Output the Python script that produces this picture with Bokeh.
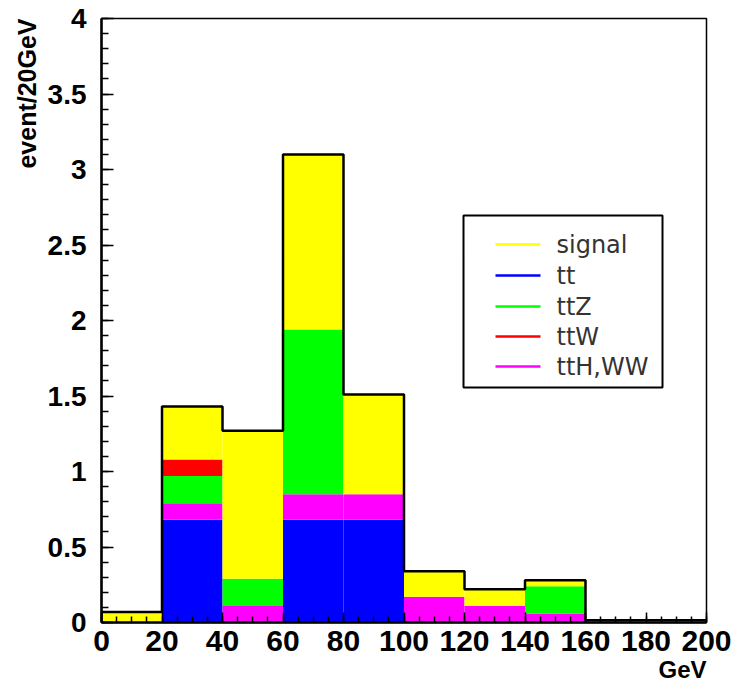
import numpy as np
from bokeh.plotting import figure
from bokeh.models import ColumnDataSource, FixedTicker, Label, Range1d, Title
from bokeh.embed import file_html
from bokeh.resources import INLINE

# ---- data ----
bin_edges = [0, 20, 40, 60, 80, 100, 120, 140, 160, 180, 200]
tt      = [0.00, 0.68, 0.00, 0.68, 0.68, 0.00, 0.00, 0.00, 0.00, 0.00]
ttHWW   = [0.00, 0.11, 0.11, 0.17, 0.17, 0.17, 0.11, 0.06, 0.00, 0.00]
ttZ     = [0.00, 0.18, 0.18, 1.09, 0.00, 0.00, 0.00, 0.18, 0.00, 0.00]
ttW     = [0.00, 0.11, 0.00, 0.00, 0.00, 0.00, 0.00, 0.00, 0.00, 0.00]
signal  = [0.07, 0.35, 0.98, 1.16, 0.66, 0.17, 0.11, 0.04, 0.015, 0.015]

x_ticks = [0, 20, 40, 60, 80, 100, 120, 140, 160, 180, 200]
y_ticks = [0, 0.5, 1, 1.5, 2, 2.5, 3, 3.5, 4]
y_tick_labels = ["0", "0.5", "1", "1.5", "2", "2.5", "3", "3.5", "4"]

legend_labels = ["signal", "tt", "ttZ", "ttW", "ttH,WW"]
legend_colors = ["#ffff00", "#0000ff", "#00ff00", "#ff0000", "#ff00ff"]

# stacking order bottom -> top
stack_names = ["tt", "ttHWW", "ttZ", "ttW", "signal"]
stack_vals = [tt, ttHWW, ttZ, ttW, signal]
stack_colors = ["#0000ff", "#ff00ff", "#00ff00", "#ff0000", "#ffff00"]

# ---- figure ----
W, H = 734, 685
L, R, T, B = 101, 28, 18, 63
p = figure(width=W, height=H, output_backend="svg", toolbar_location=None,
           x_range=Range1d(0, 200), y_range=Range1d(0, 4),
           min_border_left=L, min_border_right=R, min_border_top=T, min_border_bottom=B)
p.background_fill_color = "white"
p.border_fill_color = "white"
p.xgrid.visible = False
p.ygrid.visible = False
p.outline_line_color = "black"
p.outline_line_width = 1.5

edges = np.array(bin_edges, dtype=float)
left = edges[:-1]
right = edges[1:]
bottom = np.zeros(len(left))
for name, vals, col in zip(stack_names, stack_vals, stack_colors):
    v = np.array(vals, dtype=float)
    top = bottom + v
    src = ColumnDataSource(dict(left=left, right=right, bottom=bottom, top=top))
    p.quad(left="left", right="right", bottom="bottom", top="top", source=src,
           fill_color=col, line_color=None)
    bottom = top

total = bottom
sx = np.repeat(edges, 2)
sy = np.concatenate([[0.0], np.repeat(total, 2), [0.0]])
p.line(sx, sy, line_color="black", line_width=2.5)

# ---- axes ----
font = "Liberation Sans"
p.xaxis.ticker = FixedTicker(ticks=x_ticks, minor_ticks=list(np.arange(0, 201, 5)))
p.yaxis.ticker = FixedTicker(ticks=y_ticks, minor_ticks=list(np.round(np.arange(0, 4.01, 0.1), 2)))
p.yaxis.major_label_overrides = {t: s for t, s in zip(y_ticks, y_tick_labels)}
for ax in (p.xaxis, p.yaxis):
    ax.axis_line_width = 2.5
    ax.axis_line_color = "black"
    ax.major_tick_out = 0
    ax.minor_tick_out = 0
    ax.major_tick_line_width = 1.5
    ax.minor_tick_line_width = 1.5
    ax.major_label_text_font = font
    ax.major_label_text_font_style = "bold"
    ax.major_label_text_color = "black"
p.xaxis.major_label_text_font_size = "30px"
p.yaxis.major_label_text_font_size = "28px"
p.xaxis.major_tick_in = 10
p.xaxis.minor_tick_in = 6
p.yaxis.major_tick_in = 12
p.yaxis.minor_tick_in = 7
p.xaxis.major_label_standoff = 8
p.yaxis.major_label_standoff = 15

# axis titles (side-panel titles so they are not clipped to the frame)
p.add_layout(Title(text="event/20GeV", align="right", text_font=font,
                   text_font_style="bold", text_font_size="25px",
                   text_color="black", standoff=8, offset=0), "left")
p.add_layout(Title(text="GeV", align="right", text_font=font,
                   text_font_style="bold", text_font_size="24px",
                   text_color="black", standoff=0, offset=0), "below")

# ---- legend (drawn manually, ROOT style) ----
def px2x(px):
    return (px - L) / (W - L - R) * 200.0

def py2y(py):
    return (H - B - py) / (H - B - T) * 4.0

p.quad(left=px2x(463), right=px2x(662), bottom=py2y(387), top=py2y(215),
       fill_color="white", line_color="black", line_width=2)
row_y = [244, 275, 306, 336, 366]
for lab, col, ry in zip(legend_labels, legend_colors, row_y):
    p.line([px2x(495), px2x(540)], [py2y(ry), py2y(ry)], line_color=col, line_width=2.5)
    p.add_layout(Label(x=px2x(556), y=py2y(ry), text=lab,
                       text_align="left", text_baseline="middle",
                       text_font="DejaVu Sans", text_font_size="24px",
                       text_color="#333333"))

open("out.html", "w").write(file_html(p, INLINE))
